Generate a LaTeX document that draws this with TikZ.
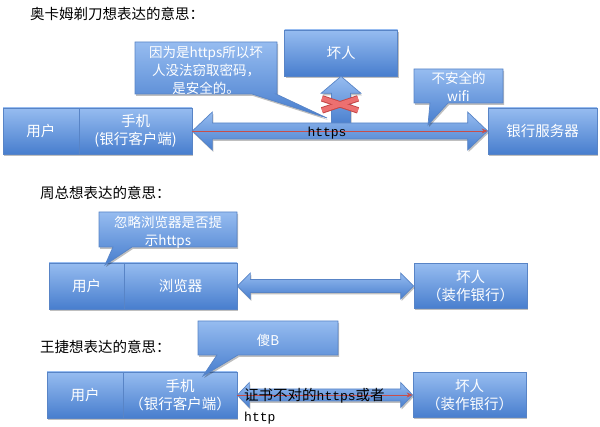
\documentclass[tikz,border=0pt]{standalone}
\usepackage{fontspec}
\setmainfont{Noto Sans CJK SC}
\newfontfamily\codefont{Liberation Mono}
\usetikzlibrary{calc,shadows,arrows.meta}

\definecolor{boxtop}{RGB}{150,188,240}
\definecolor{boxbot}{RGB}{72,126,206}
\definecolor{boxedge}{RGB}{88,132,198}
\definecolor{linkred}{RGB}{200,78,74}
\definecolor{crossfill}{RGB}{236,112,112}
\definecolor{crossedge}{RGB}{196,72,72}

\tikzset{
  blue shade/.style={top color=boxtop, bottom color=boxbot, draw=boxedge, line width=0.7pt},
  soft shadow/.style={drop shadow={shadow xshift=1pt, shadow yshift=-2pt, opacity=0.25, fill=black}},
  entity/.style={blue shade, soft shadow, rectangle, inner sep=0pt, text=white, align=center,
    font=\fontsize{14.5}{18}\selectfont},
  note/.style={inner sep=0pt, text=white, align=center, font=\fontsize{13.5}{18}\selectfont},
  heading/.style={anchor=west, inner sep=0pt, font=\fontsize{14.5}{18}\selectfont},
  redlink/.style={draw=linkred, line width=0.9pt, -{Stealth[length=6pt,width=5pt]}},
}

% block double arrow between two points: from, to, head length, head half-height, shaft half-height
\newcommand\twowayarrow[5]{%
  \path[blue shade, soft shadow] (#1) -- ($(#1)+(#3,-#4)$) -- ($(#1)+(#3,-#5)$)
    -- ($(#2)+(-#3,-#5)$) -- ($(#2)+(-#3,-#4)$) -- (#2) -- ($(#2)+(-#3,#4)$)
    -- ($(#2)+(-#3,#5)$) -- ($(#1)+(#3,#5)$) -- ($(#1)+(#3,#4)$) -- cycle;}

\begin{document}
\begin{tikzpicture}[x=1pt,y=-1pt]
\useasboundingbox (0,0) rectangle (600,427);

% ---------- first scenario ----------
\node[heading] (title1) at (30,14) {奥卡姆剃刀想表达的意思：};

\node[entity, minimum width=76pt, minimum height=46pt] (user1) at (41,131) {用户};
\node[entity, minimum width=113pt, minimum height=46pt] (phone1) at (135.5,131) {手机\\(银行客户端)};
\node[entity, minimum width=109pt, minimum height=46pt] (server1) at (542.5,131) {银行服务器};
\node[entity, minimum width=113pt, minimum height=46pt] (bad1) at (341,53) {坏人};

% blocked branch towards the attacker
\coordinate (upfoot) at ($(bad1.south)+(0,49)$);
\path[blue shade, soft shadow] ($(upfoot)+(-9.5,0)$) -- ($(bad1.south)+(-9.5,17)$)
  -- ($(bad1.south)+(-20,17)$) -- (bad1.south) -- ($(bad1.south)+(20,17)$)
  -- ($(bad1.south)+(9.5,17)$) -- ($(upfoot)+(9.5,0)$) -- cycle;

\twowayarrow{phone1.east}{server1.west}{20}{19}{8}
\draw[redlink] (phone1.east) -- (server1.west);
\node[inner sep=0pt, font=\codefont\fontsize{13}{15}\selectfont] (proto1) at (327,133) {https};

% the cross over the branch
\coordinate (xmark) at ($(bad1.south)+(-1,28)$);
\foreach \w/\c in {6.5/crossedge, 4.5/crossfill} {
  \draw[line width=\w pt, draw=\c] ($(xmark)+(-18,-6)$) -- ($(xmark)+(18,6)$);
  \draw[line width=\w pt, draw=\c] ($(xmark)+(-18,6)$) -- ($(xmark)+(18,-6)$);
}

% callouts
\path[blue shade, soft shadow] (135,42) -- (277,42) -- (277,94) -- (276,94) -- (327,118)
  -- (252,94) -- (135,94) -- cycle;
\node[note] (note1) at (206,70) {因为是https所以坏\\人没法窃取密码，\\是安全的。};

\path[blue shade, soft shadow] (414,69) -- (503,69) -- (503,103) -- (448,103) -- (428,125)
  -- (430,103) -- (414,103) -- cycle;
\node[note] (note2) at (458.5,86.5) {不安全的\\wifi};

% ---------- second scenario ----------
\node[heading] (title2) at (40,193) {周总想表达的意思：};

\node[entity, minimum width=75pt, minimum height=46pt] (user2) at (86.5,286) {用户};
\node[entity, minimum width=113pt, minimum height=46pt] (browser2) at (180.5,286) {浏览器};
\node[entity, minimum width=113pt, minimum height=45pt] (bad2) at (470.5,286) {坏人\\（装作银行）};

\twowayarrow{browser2.east}{bad2.west}{13}{13}{6.5}

\path[blue shade, soft shadow] (99,212) -- (237,212) -- (237,247) -- (132,247) -- (105,265)
  -- (113,247) -- (99,247) -- cycle;
\node[note] (note3) at (168,232) {忽略浏览器是否提\\示https};

% ---------- third scenario ----------
\node[heading] (title3) at (40,347) {王捷想表达的意思：};

\node[entity, minimum width=76pt, minimum height=46pt] (user3) at (85,395) {用户};
\node[entity, minimum width=114pt, minimum height=46pt] (phone3) at (180,395) {手机\\（银行客户端）};
\node[entity, minimum width=113pt, minimum height=45pt] (bad3) at (469.5,395) {坏人\\（装作银行）};

\twowayarrow{phone3.east}{bad3.west}{12}{12.5}{6}
\draw[redlink] (phone3.east) -- (bad3.west);
\node[anchor=north west, inner sep=0pt, align=left, font=\fontsize{14.5}{21}\selectfont]
  (proto3) at (244,388) {证书不对的{\codefont\fontsize{13}{21}\selectfont https}或者\\{\codefont\fontsize{13}{21}\selectfont http}};

\path[blue shade, soft shadow] (198,321) -- (338,321) -- (338,355) -- (238,355) -- (203,376)
  -- (217,355) -- (198,355) -- cycle;
\node[note] (note4) at (268,340) {傻B};

\end{tikzpicture}
\end{document}
